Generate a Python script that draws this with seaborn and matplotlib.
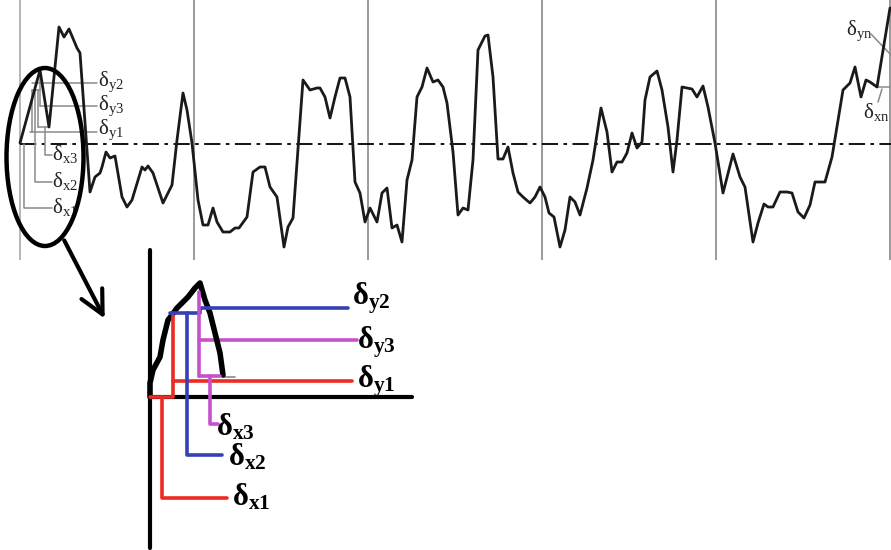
import numpy as np
import pandas as pd
import matplotlib
matplotlib.use("Agg")
import matplotlib.pyplot as plt
from matplotlib.patches import Ellipse
import seaborn as sns

# ------------------------------
# Data
# ------------------------------
# surface profile: position along the trace and height above the mean line
profile_x = [0, 20, 29, 39, 44, 49, 57, 60, 70, 75, 80, 82, 86, 90, 95, 102, 107, 112,
             122, 125, 128, 133, 143, 152, 157, 163, 167, 172, 178, 183, 188, 193, 197,
             203, 210, 215, 219, 227, 233, 240, 245, 250, 257, 264, 268, 273, 283, 290,
             297, 300, 305, 310, 315, 320, 325, 330, 335, 340, 345, 350, 357, 362, 367,
             372, 377, 382, 387, 392, 397, 402, 407, 413, 418, 423, 427, 433, 438, 443,
             448, 453, 458, 462, 465, 468, 473, 478, 483, 488, 493, 498, 503, 510, 515,
             520, 525, 529, 534, 540, 545, 550, 555, 560, 567, 573, 581, 587, 592, 597,
             602, 607, 612, 617, 622, 625, 630, 637, 642, 648, 653, 657, 662, 667, 672,
             677, 683, 688, 695, 703, 713, 720, 725, 733, 738, 744, 748, 753, 760, 767,
             772, 778, 784, 790, 795, 805, 812, 823, 830, 835, 841, 846, 850, 857, 870]
profile_y = [1, 74, 17, 117, 107, 115, 96, 91, -48, -33, -29, -23, -8, -14, -12, -53, -63, -56,
             -23, -26, -22, -29, -59, -41, 4, 51, 34, 1, -56, -81, -81, -64, -78,
             -88, -88, -84, -84, -73, -28, -23, -23, -43, -53, -103, -83, -74, 64, 54,
             56, 56, 47, 26, 47, 66, 66, 47, -38, -49, -78, -64, -78, -49, -44,
             -84, -81, -98, -36, -16, 47, 57, 76, 62, 64, 57, 41, -8, -71, -64,
             -66, -16, 94, 102, 108, 109, 67, -15, -15, -3, -29, -48, -53, -59, -53,
             -43, -53, -69, -73, -103, -86, -53, -58, -71, -44, -16, 36, 12, -28, -18,
             -18, -9, 11, -4, 2, 44, 67, 73, 54, 17, -28, 4, 57, 56, 55,
             47, 58, 37, 1, -49, -10, -33, -43, -98, -79, -60, -63, -63, -48, -48,
             -49, -68, -74, -61, -38, -38, -13, 54, 61, 77, 47, 64, 62, 57, 136]
sampling_edges = [0, 174, 348, 522, 696, 870]

# magnified first peak (inset)
peak_x = [0, 0, 3, 10, 13, 18, 22, 27, 33, 38, 45, 50, 55, 60, 65, 70, 73]
peak_y = [0, 14, 27, 40, 57, 77, 82, 89, 95, 100, 109, 114, 97, 84, 64, 44, 22]

RED = "#ec2b24"
BLUE = "#3440b4"
MAGENTA = "#c452cc"
GRAY = "#8a8a8a"

sns.set_theme(style="white")
plt.rcParams["font.family"] = ["Liberation Serif", "DejaVu Serif"]
plt.rcParams["mathtext.fontset"] = "custom"
plt.rcParams["mathtext.rm"] = "Liberation Serif"
plt.rcParams["mathtext.bf"] = "Liberation Serif:bold"

fig = plt.figure(figsize=(8.91, 5.5), dpi=100)
fig.patch.set_facecolor("white")

# ------------------------------
# Top panel: full profile
# ------------------------------
ax = fig.add_axes([0, 290 / 550, 1, 260 / 550])
ax.set_xlim(-20, 871)
ax.set_ylim(-116, 144)
ax.axis("off")

for e in sampling_edges:
    ax.axvline(e, color="#9a9a9a" if e else "#b5b5b5", lw=1.4, zorder=1)
ax.plot([0, 871], [0, 0], color="black", lw=1.3, dashes=(9, 3, 2, 3), zorder=2)

df = pd.DataFrame({"x": profile_x, "y": profile_y})
sns.lineplot(data=df, x="x", y="y", ax=ax, color="#1a1a1a", lw=2.0, sort=False,
             estimator=None, zorder=3)
ax.set_xlabel("")
ax.set_ylabel("")

# thin gray spacing lines around the first peak
g = dict(color=GRAY, lw=1.1, zorder=2)
ax.plot([12, 77], [61, 61], **g)
ax.plot([20, 77], [38, 38], **g)
ax.plot([20, 20], [74, 38], **g)
ax.plot([10, 77], [12, 12], **g)
ax.plot([12, 20], [54, 54], **g)
ax.plot([12, 12], [54, 12], **g)
ax.plot([18, 18], [54, 17], **g)
ax.plot([18, 29], [17, 17], **g)
ax.plot([25, 25, 32], [17, -11, -11], **g)
ax.plot([15, 15, 32], [54, -38, -38], **g)
ax.plot([4, 4, 32], [0, -64, -64], **g)

small = dict(fontsize=15, color="#222222", va="center", ha="left")
ax.text(78, 62, r"$\mathrm{δ_{y2}}$", **small)
ax.text(78, 38, r"$\mathrm{δ_{y3}}$", **small)
ax.text(78, 14, r"$\mathrm{δ_{y1}}$", **small)
ax.text(32, -10, r"$\mathrm{δ_{x3}}$", **small)
ax.text(32, -37, r"$\mathrm{δ_{x2}}$", **small)
ax.text(32, -63, r"$\mathrm{δ_{x1}}$", **small)
ax.text(826, 113, r"$\mathrm{δ_{yn}}$", **small)
ax.text(843, 32, r"$\mathrm{δ_{xn}}$", **small)
ax.plot([851, 871], [110, 89], **g)
ax.plot([857, 870], [57, 57], **g)
ax.plot([862, 858], [55, 42], **g)

# ------------------------------
# Bottom panel: magnified peak
# ------------------------------
ax2 = fig.add_axes([0, 0, 1, 290 / 550])
ax2.set_xlim(-150, 741)
ax2.set_ylim(-153, 137)
ax2.axis("off")

ax2.plot([0, 0], [-151, 147], color="black", lw=3, clip_on=False)
ax2.plot([0, 262], [0, 0], color="black", lw=3)

pk = pd.DataFrame({"x": peak_x, "y": peak_y})
sns.lineplot(data=pk, x="x", y="y", ax=ax2, color="black", lw=4, sort=False,
             estimator=None, zorder=3)
ax2.set_xlabel("")
ax2.set_ylabel("")
ax2.plot([73, 85], [20, 20], color=GRAY, lw=1.2)

lw = 2.6
# red: first spacing
ax2.plot([0, 23, 23], [0, 0, 82], color=RED, lw=lw, zorder=4)
ax2.plot([23, 202], [16, 16], color=RED, lw=lw, zorder=2)
ax2.plot([12, 12, 77], [0, -101, -101], color=RED, lw=lw)
# blue: second spacing
ax2.plot([20, 50, 50, 198], [84, 84, 89, 89], color=BLUE, lw=lw, zorder=4)
ax2.plot([37, 37, 72], [84, -58, -58], color=BLUE, lw=lw)
# magenta: third spacing
ax2.plot([49, 49], [105, 21], color=MAGENTA, lw=lw, zorder=4)
ax2.plot([49, 207], [57, 57], color=MAGENTA, lw=lw)
ax2.plot([49, 70], [21, 21], color=MAGENTA, lw=lw, zorder=4)
ax2.plot([60, 60, 68], [21, -27, -27], color=MAGENTA, lw=lw)

big = dict(fontsize=22, color="black", va="center", ha="left")
ax2.text(202, 99, r"$\mathbf{δ_{y2}}$", **big)
ax2.text(207, 55, r"$\mathbf{δ_{y3}}$", **big)
ax2.text(207, 16, r"$\mathbf{δ_{y1}}$", **big)
ax2.text(66, -30, r"$\mathbf{δ_{x3}}$", **big)
ax2.text(78, -60, r"$\mathbf{δ_{x2}}$", **big)
ax2.text(82, -100, r"$\mathbf{δ_{x1}}$", **big)

# ------------------------------
# Overlay: magnifier ellipse and arrow
# ------------------------------
ov = fig.add_axes([0, 0, 1, 1], facecolor="none")
ov.set_xlim(0, 891)
ov.set_ylim(550, 0)
ov.axis("off")
ov.add_patch(Ellipse((45, 157), 77, 178, fill=False, ec="black", lw=3.2, zorder=5))
ov.annotate("", xy=(106, 321), xytext=(63, 238),
            arrowprops=dict(arrowstyle="->,head_length=1.4,head_width=0.7",
                            color="black", lw=3))

fig.savefig("out.png", dpi=100, facecolor="white")
